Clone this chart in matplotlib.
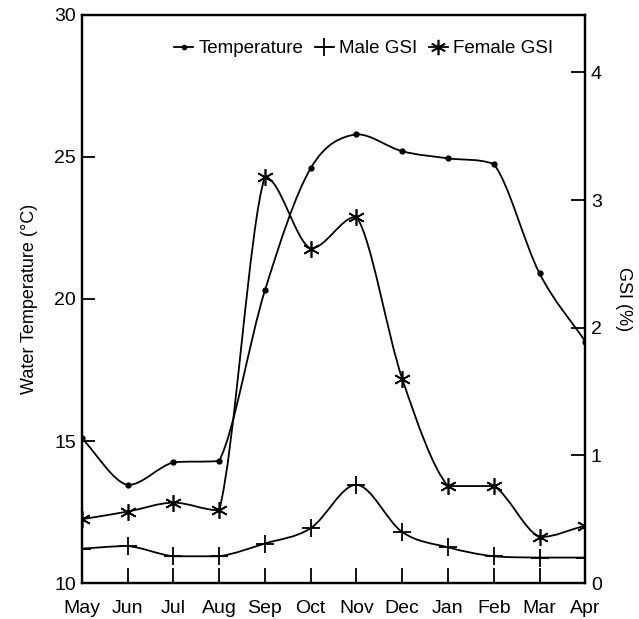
import matplotlib
matplotlib.use('Agg')
import matplotlib.pyplot as plt
from matplotlib.path import Path
from matplotlib.patches import PathPatch
from matplotlib.lines import Line2D

plt.rcParams['font.family'] = ['Liberation Sans', 'DejaVu Sans']

# data
months = ['May', 'Jun', 'Jul', 'Aug', 'Sep', 'Oct', 'Nov', 'Dec', 'Jan', 'Feb', 'Mar', 'Apr']
temperature = [15.1, 13.45, 14.25, 14.3, 20.3, 24.6, 25.8, 25.2, 24.95, 24.75, 20.9, 18.5]
male_gsi = [0.27, 0.29, 0.21, 0.21, 0.31, 0.43, 0.77, 0.40, 0.28, 0.21, 0.20, 0.20]
female_gsi = [0.50, 0.56, 0.63, 0.57, 3.18, 2.62, 2.87, 1.60, 0.76, 0.76, 0.36, 0.45]


def limit(m, d):
    # keep the tangent from overshooting the segment
    if d == 0 or m * d <= 0:
        return 0.0
    if abs(m) > 3 * abs(d):
        return 3 * d
    return m


def smooth_path(xs, ys):
    # smoothed curve through the points, as cubic bezier segments
    n = len(xs)
    tang = []
    for i in range(n):
        a = max(i - 1, 0)
        b = min(i + 1, n - 1)
        tang.append((ys[b] - ys[a]) / (xs[b] - xs[a]))
    verts = [(xs[0], ys[0])]
    codes = [Path.MOVETO]
    for i in range(n - 1):
        h = xs[i + 1] - xs[i]
        d = (ys[i + 1] - ys[i]) / h
        m0 = limit(tang[i], d)
        m1 = limit(tang[i + 1], d)
        c1 = (xs[i] + h / 3, ys[i] + m0 * h / 3)
        c2 = (xs[i + 1] - h / 3, ys[i + 1] - m1 * h / 3)
        verts += [c1, c2, (xs[i + 1], ys[i + 1])]
        codes += [Path.CURVE4] * 3
    return Path(verts, codes)


x = list(range(len(months)))

fig = plt.figure(figsize=(6.39, 6.19), dpi=100)
ax = fig.add_axes([0.128, 0.058, 0.788, 0.918])
ax2 = ax.twinx()

ax.add_patch(PathPatch(smooth_path(x, temperature), fill=False, lw=1.3, color='black'))
ax.plot(x, temperature, ls='none', marker='o', ms=3.5, color='black')

ax2.add_patch(PathPatch(smooth_path(x, male_gsi), fill=False, lw=1.3, color='black'))
ax2.plot(x, male_gsi, ls='none', marker='+', ms=13, mew=1.3, color='black')
ax2.add_patch(PathPatch(smooth_path(x, female_gsi), fill=False, lw=1.3, color='black'))
ax2.plot(x, female_gsi, ls='none', marker=(6, 2, 0), ms=12, mew=1.2, color='black')

ax.set_xlim(0, 11)
ax.set_ylim(10, 30)
ax2.set_ylim(0, 4.45)
ax.set_yticks([10, 15, 20, 25, 30])
ax2.set_yticks([0, 1, 2, 3, 4])
ax.set_xticks(x)
ax.set_xticklabels(months)

for a in (ax, ax2):
    for s in a.spines.values():
        s.set_linewidth(1.6)
ax.tick_params(axis='both', direction='in', length=9, width=1.3, labelsize=14, pad=4)
ax.tick_params(axis='x', length=11, pad=12)
ax2.tick_params(axis='y', direction='in', length=10, width=1.3, labelsize=14, pad=4)

ax.set_ylabel('Water Temperature (°C)', fontsize=13, labelpad=12)
ax2.set_ylabel('GSI (%)', fontsize=13, rotation=270, labelpad=22)

handles = [
    Line2D([], [], color='black', lw=1.3, marker='o', ms=3),
    Line2D([], [], color='black', lw=1.3, marker='+', ms=13, mew=1.3),
    Line2D([], [], color='black', lw=1.3, marker=(6, 2, 0), ms=11, mew=1.2),
]
ax.legend(handles, ['Temperature', 'Male GSI', 'Female GSI'], loc='upper right',
          bbox_to_anchor=(0.97, 0.985), ncol=3, frameon=False, fontsize=13.5,
          handlelength=1.0, handletextpad=0.3, columnspacing=0.6)

fig.savefig('out.png', dpi=100)
